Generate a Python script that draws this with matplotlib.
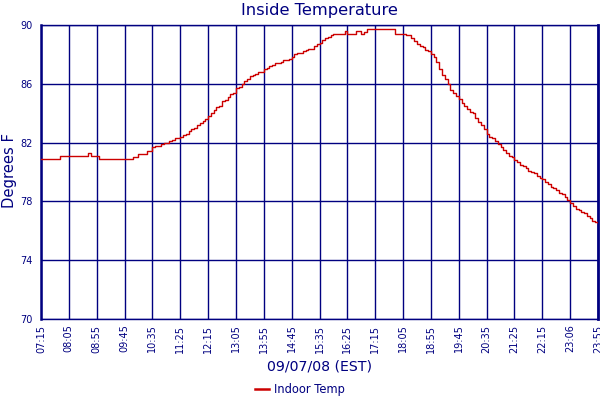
import matplotlib
matplotlib.use("Agg")
import matplotlib.pyplot as plt

# ---- data ----
start_label = "07:15"
interval_min = 5  # sample spacing in minutes
indoor_temp = [
    80.9, 80.9, 80.9, 80.9, 80.9, 80.9, 80.9,
    81.1, 81.1, 81.1, 81.1, 81.1, 81.1, 81.1, 81.1, 81.1, 81.1,
    81.3,
    81.1, 81.1, 81.1,
    80.9, 80.9, 80.9, 80.9, 80.9, 80.9, 80.9, 80.9, 80.9, 80.9, 80.9, 80.9,
    81.0, 81.0, 81.2, 81.2, 81.2, 81.4, 81.4, 81.7, 81.8, 81.8,
    81.9, 82.0, 82.0, 82.1, 82.2, 82.3, 82.3, 82.4, 82.5, 82.6,
    82.8, 82.9, 83.0, 83.2, 83.3, 83.5, 83.6, 83.8, 84.0, 84.2,
    84.4, 84.5, 84.8, 84.9, 85.1, 85.3, 85.4, 85.7, 85.8, 86.0,
    86.2, 86.3, 86.5, 86.6, 86.7, 86.8, 86.8, 87.0, 87.1, 87.2,
    87.3, 87.4, 87.4, 87.5, 87.6, 87.6, 87.7, 87.8, 88.0, 88.1,
    88.1, 88.2, 88.3, 88.4, 88.4, 88.6, 88.7, 88.8, 89.0, 89.1,
    89.2, 89.3, 89.4, 89.4, 89.4, 89.4, 89.6, 89.4, 89.4, 89.4,
    89.6, 89.6, 89.4, 89.5, 89.7, 89.7, 89.7, 89.7, 89.7, 89.7,
    89.7, 89.7, 89.7, 89.7, 89.4, 89.4, 89.4, 89.4, 89.3, 89.3,
    89.1, 88.9, 88.7, 88.6, 88.5, 88.3, 88.2, 88.0, 87.8, 87.5,
    87.0, 86.6, 86.3, 86.0, 85.6, 85.4, 85.2, 85.0, 84.7, 84.5,
    84.3, 84.1, 84.0, 83.7, 83.4, 83.2, 82.9, 82.6, 82.4, 82.3,
    82.1, 81.9, 81.7, 81.5, 81.3, 81.1, 81.0, 80.8, 80.7, 80.5,
    80.4, 80.3, 80.1, 80.0, 79.9, 79.7, 79.6, 79.5, 79.3, 79.2,
    79.0, 78.9, 78.8, 78.6, 78.5, 78.3, 78.1, 77.9, 77.7, 77.5,
    77.4, 77.3, 77.2, 77.0, 76.9, 76.7, 76.6, 76.5,
]
tick_labels = ["07:15", "08:05", "08:55", "09:45", "10:35", "11:25", "12:15",
               "13:05", "13:55", "14:45", "15:35", "16:25", "17:15", "18:05",
               "18:55", "19:45", "20:35", "21:25", "22:15", "23:06", "23:55"]
tick_step_min = 50
y_ticks = [70, 74, 78, 82, 86, 90]

minutes = [i * interval_min for i in range(len(indoor_temp))]
tick_pos = [i * tick_step_min for i in range(len(tick_labels))]

NAVY = "#000080"
RED = "#CC0000"

fig = plt.figure(figsize=(6, 4), dpi=100)
ax = fig.add_axes([41 / 600, 1 - 319 / 400, 557 / 600, 294 / 400])

ax.plot(minutes, indoor_temp, color=RED, lw=1.0, drawstyle="steps-post",
        label="Indoor Temp", zorder=3)

ax.set_xlim(tick_pos[0], tick_pos[-1])
ax.set_ylim(70, 90)
ax.set_xticks(tick_pos)
ax.set_xticklabels(tick_labels, rotation=90, fontsize=7, color=NAVY)
ax.set_yticks(y_ticks)
ax.set_yticklabels([str(v) for v in y_ticks], fontsize=7, color=NAVY)
ax.tick_params(axis="both", length=0)
ax.tick_params(axis="x", pad=4)
ax.tick_params(axis="y", pad=6)

ax.grid(True, color=NAVY, lw=1.0)
ax.set_axisbelow(True)
for side, w in [("left", 1.8), ("right", 2.0), ("top", 1.0), ("bottom", 1.0)]:
    ax.spines[side].set_color(NAVY)
    ax.spines[side].set_linewidth(w)

fig.text(0.5325, 1 - 10 / 400, "Inside Temperature", ha="center", va="center",
         fontsize=11.7, color=NAVY)
fig.text(0.5325, 1 - 366 / 400, "09/07/08 (EST)", ha="center", va="center",
         fontsize=10.2, color=NAVY)
fig.text(10 / 600, 1 - 170 / 400, "Degrees F", ha="center", va="center",
         rotation=90, fontsize=10.6, color=NAVY)

leg = fig.legend(loc="center", bbox_to_anchor=(300 / 600, 1 - 390 / 400),
                 frameon=False, fontsize=8.3, handlelength=1.2,
                 handletextpad=0.4, borderpad=0)
for t in leg.get_texts():
    t.set_color(NAVY)
for h in leg.get_lines():
    h.set_linewidth(1.8)

fig.savefig("out.png", dpi=100)
